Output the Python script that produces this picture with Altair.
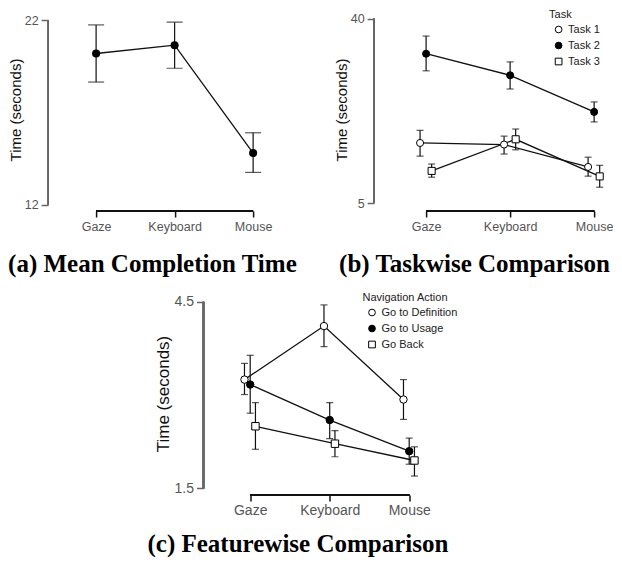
import json
import altair as alt
import pandas as pd

SANS = "Liberation Sans"
SERIF = "Liberation Serif"

# ---------------- data ----------------
conditions = ["Gaze", "Keyboard", "Mouse"]

# (a) Mean completion time
overall_mean = [20.2, 20.65, 14.8]
overall_lo = [18.65, 19.4, 13.75]
overall_hi = [21.75, 21.9, 15.9]

# (b) Taskwise comparison
tasks = ["Task 1", "Task 2", "Task 3"]
task1_mean = [16.4, 16.1, 11.85]
task1_lo = [13.9, 14.3, 10.1]
task1_hi = [18.8, 17.7, 13.7]
task2_mean = [33.35, 29.25, 22.3]
task2_lo = [30.1, 26.65, 20.4]
task2_hi = [36.7, 31.8, 24.2]
task3_mean = [11.1, 17.1, 10.05]
task3_lo = [9.9, 15.1, 8.0]
task3_hi = [12.4, 19.05, 12.15]

# (c) Featurewise comparison
actions = ["Go to Definition", "Go to Usage", "Go Back"]
defn_mean = [3.25, 4.11, 2.93]
defn_lo = [3.01, 3.78, 2.61]
defn_hi = [3.51, 4.45, 3.25]
usage_mean = [3.17, 2.60, 2.10]
usage_lo = [2.71, 2.30, 1.89]
usage_hi = [3.64, 2.88, 2.31]
back_mean = [2.50, 2.22, 1.95]
back_lo = [2.13, 2.01, 1.70]
back_hi = [2.88, 2.43, 2.17]

# dodge (style) per series, in category units
DODGE = [-0.072, 0.0, 0.066]


def build_df(series_names, means, los, his):
    rows = []
    for s, (name, m, lo, hi) in enumerate(zip(series_names, means, los, his)):
        for i, c in enumerate(conditions):
            rows.append({"series": name, "cond": c,
                         "pos": i + (DODGE[s] if len(series_names) > 1 else 0.0),
                         "mean": m[i], "lo": lo[i], "hi": hi[i]})
    return pd.DataFrame(rows)


df_a = build_df(["All"], [overall_mean], [overall_lo], [overall_hi])
df_b = build_df(tasks, [task1_mean, task2_mean, task3_mean],
                [task1_lo, task2_lo, task3_lo], [task1_hi, task2_hi, task3_hi])
df_c = build_df(actions, [defn_mean, usage_mean, back_mean],
                [defn_lo, usage_lo, back_lo], [defn_hi, usage_hi, back_hi])

label_expr = json.dumps(conditions) + "[datum.value]"
H = 203


def make_panel(df, xdom, ydom, yticks, yfmt, W, cap, caption, cap_dx, cap_off,
               series_title=None, series_names=None, lx=0, ly=0, psize=50,
               lab_fs=12.5, title_fs=15, title_pad=1, xlab_pad=3, left_pad=None):
    xscale = alt.Scale(domain=xdom, nice=False, zero=False)
    yscale = alt.Scale(domain=ydom, nice=False, zero=False)
    xaxis = alt.Axis(values=[0, 1, 2], labelExpr=label_expr, domain=False, grid=False,
                     tickColor="#111", tickSize=6, tickWidth=1.5, labelPadding=xlab_pad,
                     labelFont=SANS, labelFontSize=lab_fs, labelColor="#555",
                     labelFlush=False, title=None)
    yaxis = alt.Axis(values=yticks, format=yfmt, domain=False, grid=False,
                     tickColor="#666", tickSize=7, tickWidth=1.5, labelPadding=3,
                     labelFont=SANS, labelFontSize=lab_fs, labelColor="#555",
                     title="Time (seconds)", titleFont=SANS, titleFontSize=title_fs,
                     titleFontWeight="normal", titleColor="#111", titlePadding=title_pad)

    def X(f):
        return alt.X(f, type="quantitative", scale=xscale, axis=xaxis)

    def Y(f):
        return alt.Y(f, type="quantitative", scale=yscale, axis=yaxis)

    base = alt.Chart(df)
    yline = base.mark_rule(color="#666", strokeWidth=1.5).encode(
        x=alt.value(0), y=alt.YDatum(yticks[0], scale=yscale, axis=yaxis),
        y2=alt.Y2Datum(yticks[-1]))
    xline = base.mark_rule(color="#111", strokeWidth=2).encode(
        x=alt.XDatum(0, scale=xscale, axis=xaxis), x2=alt.X2Datum(2), y=alt.value(H))
    err = base.mark_rule(color="#111", strokeWidth=1.2).encode(x=X("pos"), y=Y("lo"), y2="hi")
    cap_lo = base.mark_tick(orient="horizontal", size=cap, thickness=1.2, color="#111").encode(
        x=X("pos"), y=Y("lo"))
    cap_hi = base.mark_tick(orient="horizontal", size=cap, thickness=1.2, color="#111").encode(
        x=X("pos"), y=Y("hi"))
    line = base.mark_line(color="#111", strokeWidth=1.3).encode(
        x=X("pos"), y=Y("mean"), detail="series:N")
    if series_names is None:
        pts = base.mark_circle(color="black", size=psize, opacity=1).encode(x=X("pos"), y=Y("mean"))
    else:
        leg = alt.Legend(title=series_title, orient="none", legendX=lx, legendY=ly,
                         titleFont=SANS, titleFontSize=11, titleFontWeight="normal", titleColor="#222",
                         labelFont=SANS, labelFontSize=11, labelColor="#222",
                         symbolSize=45, symbolStrokeWidth=1,
                         symbolOffset=4, labelOffset=4, rowPadding=4, titlePadding=4, padding=0)
        pts = base.mark_point(filled=False, size=psize, strokeWidth=1,
                              opacity=1, fillOpacity=1).encode(
            x=X("pos"), y=Y("mean"),
            shape=alt.Shape("series:N", sort=series_names,
                            scale=alt.Scale(domain=series_names, range=["circle", "circle", "square"]),
                            legend=leg),
            fill=alt.Fill("series:N", sort=series_names,
                          scale=alt.Scale(domain=series_names, range=["white", "black", "white"]),
                          legend=leg),
            stroke=alt.Stroke("series:N", sort=series_names,
                              scale=alt.Scale(domain=series_names, range=["black", "black", "black"]),
                              legend=leg),
        )
    layers = [yline, xline, err, cap_lo, cap_hi, line, pts]
    if left_pad is not None:
        # invisible layout spacer (widens the panel box on the left so the centred panel sits right)
        spacer = base.mark_rule(opacity=0, strokeWidth=1).encode(
            x=alt.value(-left_pad), y=alt.value(H / 2), y2=alt.value(H / 2 + 1))
        layers.append(spacer)
    return alt.layer(*layers).properties(
        width=W, height=H,
        title=alt.TitleParams(text=caption, orient="bottom", anchor="start", frame="group",
                              dx=cap_dx, offset=cap_off, font=SERIF, fontSize=25,
                              fontWeight="bold", color="black"))


panel_a = make_panel(df_a, [-0.6115, 2.229], [11.658, 22.667], [12, 22], "d", 223, 16,
                     "(a) Mean Completion Time", -40, 19, psize=65)
panel_b = make_panel(df_b, [-0.619, 2.19], [3.481, 42.032], [5, 40], "d", 236, 7,
                     "(b) Taskwise Comparison", -35, 19,
                     series_title="Task", series_names=tasks, lx=175, ly=1)
panel_c = make_panel(df_c, [-0.5874, 2.532], [1.3955, 4.6575], [1.5, 4.5], ".1f", 248, 7,
                     "(c) Featurewise Comparison", -56, 15,
                     series_title="Navigation Action", series_names=actions, lx=159, ly=0,
                     psize=55, lab_fs=14, title_fs=17, title_pad=2, xlab_pad=2, left_pad=78)

ind = dict(shape="independent", fill="independent", stroke="independent")
top = alt.hconcat(panel_a, panel_b, spacing=36).resolve_scale(**ind).resolve_legend(**ind)
chart = alt.vconcat(top, panel_c, spacing=15, center=True).resolve_scale(
    **ind).resolve_legend(**ind).properties(padding=0).configure_view(stroke=None)

chart.save("out.html", embed_options={"renderer": "svg", "actions": False})
